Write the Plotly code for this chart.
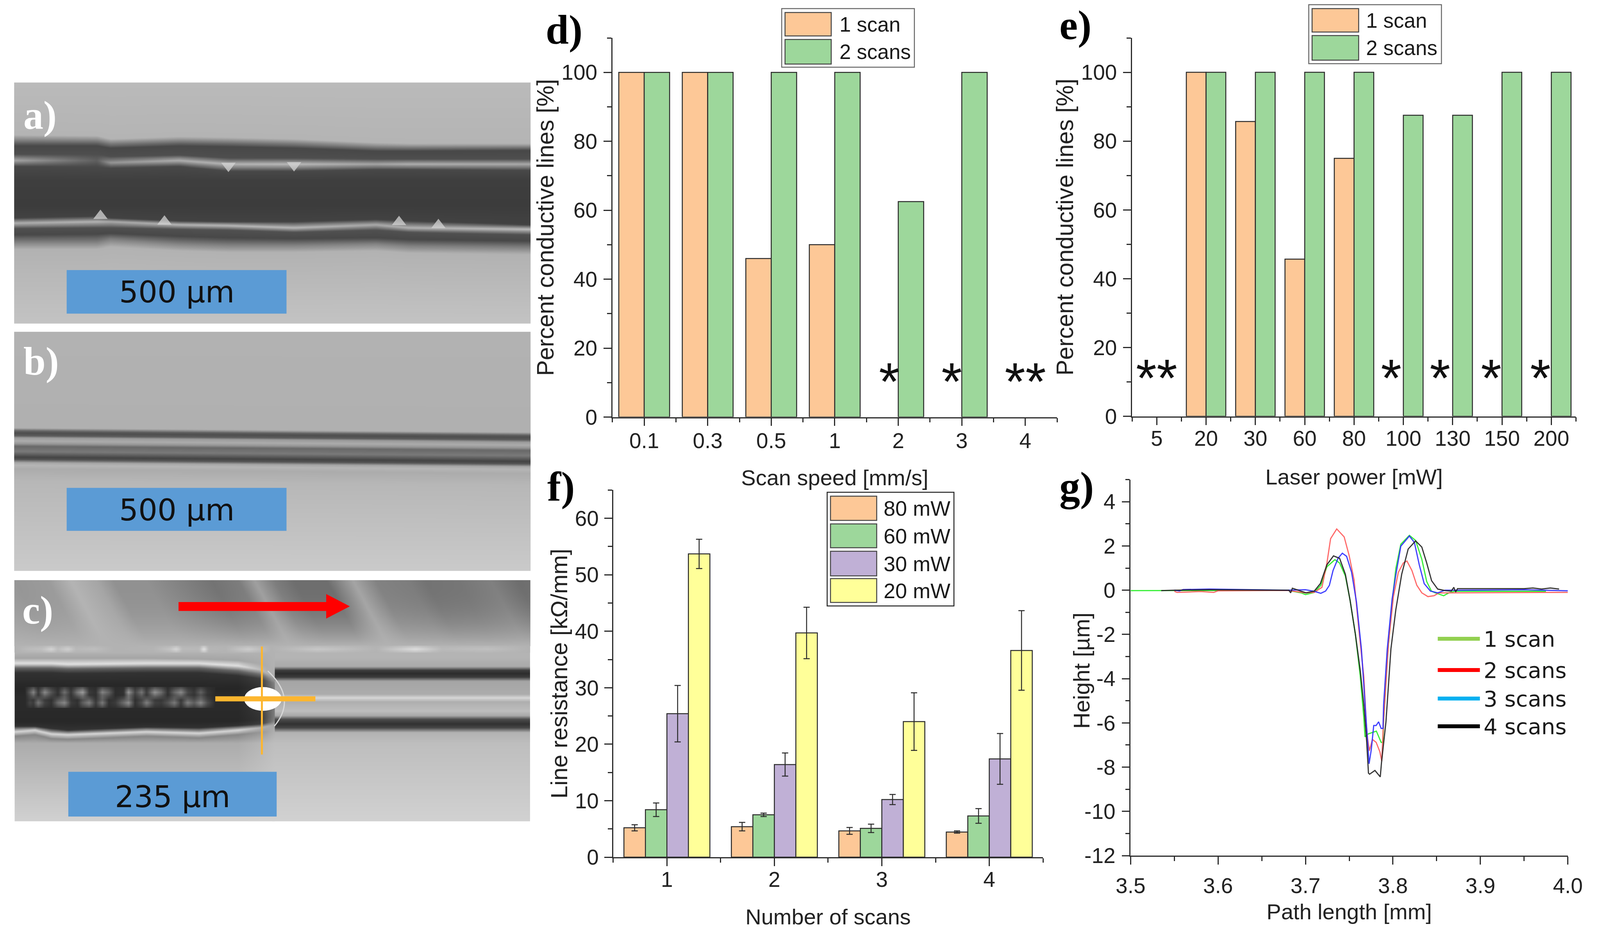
import numpy as np
import plotly.graph_objects as go

# reference size: positions below are read in these pixels and turned into fractions
W, H = 4329, 2383

# d) scan speed
speed_labels = ["0.1", "0.3", "0.5", "1", "2", "3", "4"]
speed_1scan = [100, 100, 46, 50, None, None, None]
speed_2scans = [100, 100, 100, 100, 62.5, 100, None]
speed_star_x = [3.86, 4.84, 6.0]
speed_star_txt = ["*", "*", "**"]

# e) laser power
power_labels = ["5", "20", "30", "60", "80", "100", "130", "150", "200"]
power_1scan = [None, 100, 85.7, 45.7, 75, None, None, None, None]
power_2scans = [None, 100, 100, 100, 100, 87.5, 87.5, 100, 100]
power_star_x = [0, 4.75, 5.74, 6.78, 7.78]
power_star_txt = ["**", "*", "*", "*", "*"]

# f) line resistance
scans = [1, 2, 3, 4]
res_80 = [5.2, 5.4, 4.65, 4.45]
res_80_err = [0.55, 0.75, 0.6, 0.2]
res_60 = [8.4, 7.5, 5.1, 7.3]
res_60_err = [1.2, 0.3, 0.75, 1.3]
res_30 = [25.4, 16.4, 10.2, 17.4]
res_30_err = [5.0, 2.05, 0.9, 4.5]
res_20 = [53.7, 39.7, 24.0, 36.6]
res_20_err = [2.6, 4.55, 5.1, 7.05]

# g) height profiles
g1_x = [3.5, 3.6, 3.68, 3.695, 3.7, 3.71, 3.7175, 3.7245, 3.7336, 3.739, 3.7456, 3.751, 3.757, 3.7625, 3.7667, 3.768,
        3.7717, 3.781, 3.7865, 3.7885, 3.7892, 3.7935, 3.799, 3.8033, 3.809, 3.8188, 3.8259, 3.833, 3.8386, 3.844,
        3.8484, 3.858, 3.864, 3.87, 3.95, 3.975]
g1_y = [-0.02, -0.01, -0.01, -0.12, -0.2, -0.1, 0.22, 1.06, 1.38, 1.23, 0.64, -0.46, -1.98, -3.84, -5.78, -6.63,
        -6.5, -6.37, -6.88, -6.88, -6.0, -3.08, -0.56, 0.98, 2.08, 2.48, 2.25, 1.4, 0.39, -0.04,
        -0.12, -0.25, -0.12, -0.05, -0.05, -0.05]
g2_x = [3.55, 3.553, 3.58, 3.595, 3.6, 3.68, 3.7, 3.71, 3.7188, 3.7245, 3.7287, 3.7357, 3.7442, 3.7499, 3.7555, 3.7611,
        3.7667, 3.7695, 3.771, 3.773, 3.7766, 3.7808, 3.785, 3.7872, 3.7892, 3.7949, 3.8005, 3.8062, 3.8118, 3.816,
        3.8217, 3.8273, 3.833, 3.84, 3.847, 3.8527, 3.8625, 4.0]
g2_y = [-0.05, -0.1, -0.06, -0.1, -0.03, -0.01, -0.12, -0.1, 0.13, 1.23, 2.33, 2.77, 2.41, 1.57, 0.47, -1.81,
        -3.92, -6.04, -6.7, -7.26, -6.75, -6.88, -7.3, -7.73, -5.95, -2.4, -0.29, 0.81, 1.23, 1.32,
        0.89, 0.22, -0.12, -0.29, -0.25, -0.12, -0.12, -0.1]
g3_x = [3.55, 3.556, 3.56, 3.59, 3.68, 3.7, 3.71, 3.7175, 3.723, 3.7273, 3.7315, 3.7372, 3.7421, 3.747, 3.7527, 3.7583,
        3.7639, 3.7674, 3.7703, 3.7727, 3.7752, 3.778, 3.7808, 3.7836, 3.7865, 3.7886, 3.7893, 3.7935, 3.7991, 3.8034,
        3.809, 3.8188, 3.8245, 3.8301, 3.8357, 3.8428, 3.8512, 3.8597, 3.875, 3.95, 4.0]
g3_y = [0, -0.03, 0.03, 0.05, 0, 0.02, -0.05, -0.14, -0.04, 0.22, 0.89, 1.44, 1.67, 1.53, 0.81, -0.54,
        -2.65, -4.77, -6.46, -7.85, -7.22, -6.12, -6.12, -5.95, -6.25, -6.25, -5.19, -2.65, -0.38, 0.72,
        1.99, 2.45, 2.16, 1.15, 0.3, -0.04, -0.12, 0, 0, 0.02, -0.03]
g4_x = [3.535, 3.55, 3.59, 3.681, 3.683, 3.685, 3.7005, 3.71, 3.717, 3.7245, 3.732, 3.739, 3.7456, 3.751, 3.757, 3.7625,
        3.7667, 3.77, 3.772, 3.7733, 3.7794, 3.7855, 3.7869, 3.792, 3.7977, 3.8033, 3.81, 3.8174, 3.8259, 3.833,
        3.8386, 3.8442, 3.8512, 3.8597, 3.8667, 3.8696, 3.8717, 3.8738, 3.89, 3.95, 3.96, 3.97, 3.98, 3.99]
g4_y = [-0.02, 0, 0.02, 0, -0.12, 0.09, -0.12, -0.04, 0.3, 1.15, 1.55, 1.44, 0.72, -0.46, -1.98, -3.6,
        -5.19, -6.88, -8.27, -8.32, -8.15, -8.44, -7.8, -5.95, -2.65, -0.88, 0.72, 1.86, 2.23, 1.95,
        1.23, 0.43, 0.05, -0.02, -0.04, 0.13, -0.08, 0.07, 0.07, 0.07, 0.1, 0.05, 0.1, 0.05]

ORANGE, GREEN, PURPLE, YELLOW = "#FDC897", "#9DD79B", "#C0B0D6", "#FFFF99"
DARK = "#2b2b2b"

# photos: every panel is described on a 1568 x 1568 unit box
panel_a = (41, 212, 1392, 615)
panel_b = (41, 850, 1392, 610)
panel_c = (41, 1486, 1392, 615)

a_cols = [0, 250, 290, 500, 650, 850, 1100, 1200, 1568]
a_rows = [
    [0] * 9,
    [340, 345, 365, 350, 355, 365, 390, 395, 395],
    [410, 410, 425, 410, 415, 425, 445, 445, 440],
    [465, 465, 480, 470, 490, 490, 495, 495, 495],
    [505, 505, 520, 505, 530, 530, 530, 530, 530],
    [545, 550, 555, 545, 575, 575, 565, 565, 570],
    [640] * 9,
    [800] * 9,
    [880, 870, 880, 900, 905, 905, 890, 900, 925],
    [915, 905, 905, 925, 930, 945, 925, 945, 955],
    [950, 945, 945, 955, 960, 975, 960, 975, 990],
    [990, 985, 980, 1000, 1010, 1015, 1010, 1020, 1030],
    [1040, 1040, 1020, 1050, 1060, 1060, 1050, 1065, 1075],
    [1085, 1085, 1070, 1095, 1105, 1105, 1095, 1110, 1120],
    [1568] * 9,
]
a_gray = [186, 180, 72, 78, [165, 95, 150, 175, 180, 185, 165, 175, 170], 72, 62, 60, 66,
          [175, 180, 170, 180, 185, 185, 170, 180, 190], 80, 72, 130, 178, 195]
a_flecks_top_x = [650, 850]
a_flecks_top_y = [542, 538]
a_flecks_low_x = [260, 455, 1170, 1290]
a_flecks_low_y = [868, 905, 908, 928]

b_cols = [0, 1568]
b_rows = [0, 630, 650, 663, 681, 694, 715, 733, 750, 784, 810, 822, 838, 856, 874, 900, 977, 1568]
b_gray = [178, 176, 95, 78, 92, 155, 172, 150, 105, 122, 85, 68, 85, 165, 182, 172, 183, 202]
b_drift = [0, 28]

c_left_cols = [0, 60, 110, 160, 400, 560, 680, 745, 790]
c_left_rows = [
    [0] * 9,
    [470] * 9,
    [505, 505, 505, 505, 505, 510, 520, 540, 570],
    [540, 540, 540, 545, 540, 540, 555, 580, 625],
    [570, 570, 570, 575, 570, 570, 590, 610, 650],
    [600, 600, 600, 605, 600, 600, 620, 640, 670],
    [700] * 9,
    [760] * 9,
    [830] * 9,
    [920, 920, 920, 920, 920, 920, 915, 905, 885],
    [950, 950, 965, 975, 955, 960, 945, 935, 915],
    [985, 975, 1000, 1005, 985, 995, 975, 960, 940],
    [1015, 1005, 1030, 1035, 1015, 1025, 1005, 990, 980],
    [1060] * 9,
    [1568] * 9,
]
c_left_gray = [176, 178, [165, 165, 165, 165, 165, 165, 165, 170, 178],
               [225, 225, 225, 225, 225, 225, 225, 190, 170],
               [100, 100, 100, 100, 100, 100, 100, 110, 150],
               [50, 50, 50, 50, 50, 50, 50, 60, 130],
               [38, 38, 38, 38, 38, 38, 38, 50, 125],
               [42, 42, 42, 42, 42, 42, 42, 60, 130],
               [42, 42, 42, 42, 42, 42, 42, 55, 125],
               [40, 40, 40, 40, 40, 40, 40, 50, 125],
               [50, 50, 50, 50, 50, 50, 50, 60, 130],
               [215, 215, 215, 215, 215, 215, 215, 180, 165],
               [135, 135, 135, 135, 135, 135, 135, 150, 175],
               [172, 172, 172, 172, 172, 172, 172, 182, 190], 209]
c_right_rows = [0, 500, 560, 585, 605, 630, 655, 740, 765, 790, 850, 880, 905, 935, 960, 990, 1060, 1568]
c_right_gray = [178, 180, 170, 60, 45, 60, 165, 172, 215, 175, 190, 170, 75, 50, 70, 178, 190, 209]
c_streak_x = [-150, 0, 100, 170, 250, 300, 400, 500, 600, 680, 730, 790, 850, 950, 1030, 1100, 1200, 1250, 1350, 1450, 1530, 1700]
c_streak_gray = [165, 150, 155, 180, 165, 145, 145, 130, 115, 125, 160, 125, 110, 110, 165, 130, 125, 115, 118, 128, 110, 115]
# the speckled core of the dark line and the row of glints above it
c_core_x = [30, 45, 55, 70, 90, 110, 130, 150, 170, 190, 205, 225, 245, 265, 285, 305, 330, 345, 365, 385, 400, 425, 445,
            465, 485, 505, 525, 545, 565, 585, 610]
c_core_upper = [42, 95, 135, 60, 140, 85, 50, 115, 55, 125, 160, 60, 50, 135, 100, 45, 50, 155, 70, 120, 60, 150, 110,
                50, 105, 140, 75, 55, 100, 55, 42]
c_core_lower = [42, 70, 60, 120, 65, 50, 110, 140, 60, 50, 95, 130, 60, 125, 50, 60, 110, 145, 50, 80, 130, 65, 60,
                85, 125, 60, 130, 95, 140, 80, 42]
c_glint_x = [0, 40, 80, 110, 130, 160, 185, 240, 300, 420, 470, 490, 510, 560, 575, 590, 640, 710, 780, 920, 1000, 1100, 1220, 1300, 1440, 1568]
c_glint_gray = [178, 188, 192, 212, 190, 208, 185, 190, 178, 180, 195, 215, 186, 185, 228, 182, 180, 205, 178, 200, 192, 180, 222, 186, 192, 178]

fig = go.Figure()


def ux(p, u):
    return p[0] + np.asarray(u, dtype=float) * p[2] / 1568


def uy(p, u):
    return p[1] + np.asarray(u, dtype=float) * p[3] / 1568


def add_gray(p, xs, ys, z):
    fig.add_trace(go.Heatmap(x=ux(p, xs), y=uy(p, ys), z=z, zmin=0, zmax=255, zsmooth="best", showscale=False,
                             colorscale=[[0, "black"], [1, "white"]], hoverinfo="skip", xaxis="x", yaxis="y"))


def add_photo(p, cols, rows, gray, x0=0, x1=1568):
    xs = np.linspace(x0, x1, 260)
    ys = np.linspace(0, 1568, 400)
    z = np.zeros((len(ys), len(xs)))
    for j, x in enumerate(xs):
        ky = [np.interp(x, cols, r) for r in rows]
        kg = [np.interp(x, cols, g) if isinstance(g, list) else g for g in gray]
        z[:, j] = np.interp(ys, ky, kg)
    add_gray(p, xs, ys, z)


def add_band(p, xs, rows, y0, y1, base):
    # speckle strips, one above the other, that fade into the base gray
    ys = np.linspace(y0, y1, 48)
    xx = np.linspace(xs[0], xs[-1], 400)
    z = np.full((len(ys), len(xx)), float(base))
    step = (y1 - y0) / len(rows)
    for k, gray in enumerate(rows):
        t = np.clip(1 - np.abs(ys - (y0 + step * (k + 0.5))) / (step * 0.75), 0, 1)
        z += np.outer(t, np.interp(xx, xs, gray) - base)
    add_gray(p, xx, ys, z)


def add_flecks(p, xs, ys, symbol):
    fig.add_trace(go.Scatter(x=ux(p, xs), y=uy(p, ys), mode="markers", hoverinfo="skip", showlegend=False,
                             marker=dict(size=32, symbol=symbol, color="#d4d4d4", opacity=0.75, line=dict(width=0)),
                             xaxis="x", yaxis="y"))


add_photo(panel_a, a_cols, a_rows, a_gray)
add_flecks(panel_a, a_flecks_top_x, a_flecks_top_y, "triangle-down")
add_flecks(panel_a, a_flecks_low_x, a_flecks_low_y, "triangle-up")
add_photo(panel_b, b_cols, [[y, y + b_drift[1]] if 0 < y < 1200 else [y, y] for y in b_rows], b_gray)
add_photo(panel_c, [0, 1568], [[y, y] for y in c_right_rows], c_right_gray, 785, 1568)
add_photo(panel_c, c_left_cols, c_left_rows, c_left_gray, 0, 790)

# slanted bright and dark streaks on top of photo c
st_x = np.linspace(0, 1568, 320)
st_y = np.linspace(0, 425, 80)
st_z = np.zeros((len(st_y), len(st_x)))
for i, y in enumerate(st_y):
    fade = (y / 425) ** 2.5
    st_z[i] = np.interp(st_x - 0.25 * y, c_streak_x, c_streak_gray) * (1 - fade) + 178 * fade
add_gray(panel_c, st_x, st_y, st_z)
add_band(panel_c, c_glint_x, [c_glint_gray], 425, 470, 178)
add_band(panel_c, c_core_x, [c_core_upper, c_core_lower], 695, 830, 42)


def add_bars(y, name, color, xa, ya, x=None, err=None):
    err_y = None
    if err is not None:
        err_y = dict(type="data", array=err, color=DARK, thickness=2.5, width=8)
    fig.add_trace(go.Bar(x=x, y=y, name=name, marker=dict(color=color, line=dict(color=DARK, width=2.5)),
                         error_y=err_y, showlegend=False, xaxis=xa, yaxis=ya))


speed_pos = list(range(len(speed_labels)))
power_pos = list(range(len(power_labels)))
add_bars(speed_1scan, "1 scan", ORANGE, "x2", "y2", speed_pos)
add_bars(speed_2scans, "2 scans", GREEN, "x2", "y2", speed_pos)
add_bars(power_1scan, "1 scan", ORANGE, "x3", "y3", power_pos)
add_bars(power_2scans, "2 scans", GREEN, "x3", "y3", power_pos)
add_bars(res_80, "80 mW", ORANGE, "x4", "y4", scans, res_80_err)
add_bars(res_60, "60 mW", GREEN, "x4", "y4", scans, res_60_err)
add_bars(res_30, "30 mW", PURPLE, "x4", "y4", scans, res_30_err)
add_bars(res_20, "20 mW", YELLOW, "x4", "y4", scans, res_20_err)

for xs, ys, name, color in [(g1_x, g1_y, "1 scan", "#22EE22"), (g2_x, g2_y, "2 scans", "#FF5A5A"),
                            (g3_x, g3_y, "3 scans", "#2B2BFF"), (g4_x, g4_y, "4 scans", "#222222")]:
    fig.add_trace(go.Scatter(x=xs, y=ys, name=name, mode="lines", line=dict(color=color, width=3), opacity=0.9,
                             showlegend=False, xaxis="x5", yaxis="y5"))

TICK = dict(family="Liberation Sans", size=55, color="#222222")


def x_dom(l, r):
    return [l / W, r / W]


def y_dom(t, b):
    return [1 - b / H, 1 - t / H]


def axis(title, size, standoff, labels_off, dom, anchor, **kw):
    return dict(domain=dom, anchor=anchor, showgrid=False, zeroline=False, showline=True, linecolor=DARK, linewidth=2.5,
                ticks="outside", ticklen=20, tickwidth=2.5, tickcolor=DARK, tickfont=TICK, ticklabelstandoff=labels_off,
                title=dict(text=title, standoff=standoff,
                           font=dict(family="Liberation Sans", size=size, color="#222222")),
                automargin=False, **kw)


def minor(ticklen=11, **kw):
    return dict(ticks="outside", ticklen=ticklen, tickwidth=2.5, tickcolor=DARK, showgrid=False, **kw)


fig.update_layout(
    template="none", margin=dict(l=0, r=0, t=0, b=0), paper_bgcolor="white", plot_bgcolor="rgba(0,0,0,0)",
    barmode="group", bargap=0.2, bargroupgap=0, showlegend=False,
    xaxis=dict(domain=[0, 1], range=[0, W], visible=False, anchor="y"),
    yaxis=dict(domain=[0, 1], range=[H, 0], visible=False, anchor="x"),
    xaxis2=axis("Scan speed [mm/s]", 56, 45, -9, x_dom(1657, 2860), "y2", range=[-0.5, 6.5], tickvals=speed_pos,
                ticktext=speed_labels, minor=minor(tickvals=[k - 0.5 for k in range(8)])),
    yaxis2=axis("Percent conductive lines [%]", 60.5, 1, 5, y_dom(97, 1067.5), "x2", range=[0, 110], dtick=20,
                minor=minor(dtick=10)),
    xaxis3=axis("Laser power [mW]", 56, 49, -13, x_dom(3063, 4264), "y3", range=[-0.5, 8.5], tickvals=power_pos,
                ticktext=power_labels, minor=minor(tickvals=[k - 0.5 for k in range(10)])),
    yaxis3=axis("Percent conductive lines [%]", 60.5, 1, 5, y_dom(97, 1065.6), "x3", range=[0, 110], dtick=20,
                minor=minor(dtick=10)),
    xaxis4=axis("Number of scans", 56, 47, -13, x_dom(1659, 2822), "y4", range=[0.5, 4.5], tickvals=scans,
                minor=minor(tickvals=[0.5, 1.5, 2.5, 3.5, 4.5])),
    yaxis4=axis("Line resistance [kΩ/mm]", 59.5, 0, 3, y_dom(1254.4, 2194), "x4", range=[0, 65],
                tickvals=list(range(0, 61, 10)), minor=minor(dtick=5)),
    xaxis5=axis("Path length [mm]", 56, 18, 7, x_dom(3059, 4242), "y5", range=[3.5, 4.0], dtick=0.1, tickformat=".1f",
                minor=minor(dtick=0.05)),
    yaxis5=dict(domain=y_dom(1227.6, 2190), anchor="x5", showgrid=False, zeroline=False, showline=True, linecolor=DARK,
                linewidth=2.5, ticks="outside", ticklen=20, tickwidth=2.5, tickcolor=DARK, tickfont=TICK,
                ticklabelstandoff=5, automargin=False, range=[-12, 5], tickvals=[-12, -10, -8, -6, -4, -2, 0, 2, 4],
                ticktext=["-12", "-10", "-8", "-6", "-4", "-2", "0", "2", "4"], minor=minor(dtick=1)),
)


def note(x, y, text, font, xanchor="left", xref="x", yref="y", yshift=0, angle=0):
    fig.add_annotation(x=x, y=y, text=text, xref=xref, yref=yref, font=font, showarrow=False, xanchor=xanchor,
                       yanchor="middle", yshift=yshift, align="left", textangle=angle)


def rect(x0, y0, x1, y1, fill, line=None, lw=2.5):
    fig.add_shape(type="rect", xref="x", yref="y", x0=x0, y0=y0, x1=x1, y1=y1, fillcolor=fill,
                  line=dict(color=line, width=lw) if line else dict(width=0))


def box_legend(box, sw, rows, names, colors, tx, size, border):
    rect(box[0], box[1], box[2], box[3], "white", border, 2.5)
    for (r0, r1), name, color in zip(rows, names, colors):
        rect(sw[0], r0, sw[1], r1, color, "#444444", 2.5)
        note(tx, (r0 + r1) / 2, name, dict(family="Liberation Sans", size=size, color="#1a1a1a"))


# the title of g sits closer to its labels than an axis title can
note(2925, 1717, "Height [µm]", dict(family="Liberation Sans", size=58, color="#222222"), "center", angle=-90)

box_legend((2115, 22, 2474, 172), (2124, 2249), [(32, 92), (101, 164)], ["1 scan", "2 scans"], [ORANGE, GREEN], 2269, 53, "#666666")
box_legend((3541, 12, 3900, 163), (3550, 3676), [(22, 82), (91, 154)], ["1 scan", "2 scans"], [ORANGE, GREEN], 3694, 53, "#666666")
box_legend((2238, 1260, 2581, 1551), (2247, 2372), [(1270, 1332), (1341, 1402), (1411, 1474), (1481, 1542)],
           ["80 mW", "60 mW", "30 mW", "20 mW"], [ORANGE, GREEN, PURPLE, YELLOW], 2389, 54, "#222222")

# legend of g
for y, name, color in zip([1635, 1715, 1788, 1859], ["1 scan", "2 scans", "3 scans", "4 scans"],
                          ["#92D050", "#FF0000", "#00B0F0", "#000000"]):
    fig.add_shape(type="line", xref="x", yref="y", x0=3890, x1=4004, y0=y, y1=y, line=dict(color=color, width=10))
    note(4012, y, name, dict(family="DejaVu Sans", size=56, color="#1a1a1a"))

STAR = dict(family="Liberation Sans", size=136, color="#111111")
for x, t in zip(speed_star_x, speed_star_txt):
    note(x, 14.8, t, STAR, "center", "x2", "y2", yshift=-39)
for x, t in zip(power_star_x, power_star_txt):
    note(x, 15.6, t, STAR, "center", "x3", "y3", yshift=-39)

# scale bars
BAR_FONT = dict(family="DejaVu Sans", size=77, color="#111111")
for p, (x0, x1, y0, y1), (cx, cy), t in [
    (panel_a, (157, 827, 1222, 1506), (492, 1365), "500 µm"),
    (panel_b, (157, 827, 1025, 1308), (492, 1170), "500 µm"),
    (panel_c, (162, 797, 1248, 1540), (480, 1410), "235 µm"),
]:
    rect(ux(p, x0), uy(p, y0), ux(p, x1), uy(p, y1), "#5B9BD5")
    note(ux(p, cx), uy(p, cy), t, BAR_FONT, "center")

# marks on photo c
fig.add_shape(type="path", xref="x", yref="y", line=dict(color="#d8d8d8", width=3),
              path=f"M{ux(panel_c, 770):.1f},{uy(panel_c, 590):.1f} Q{ux(panel_c, 860):.1f},{uy(panel_c, 770):.1f} "
                   f"{ux(panel_c, 790):.1f},{uy(panel_c, 950):.1f}")
fig.add_shape(type="circle", xref="x", yref="y", x0=ux(panel_c, 698), x1=ux(panel_c, 812), y0=uy(panel_c, 695),
              y1=uy(panel_c, 850), fillcolor="white", line=dict(width=0))
fig.add_shape(type="line", xref="x", yref="y", x0=ux(panel_c, 752), x1=ux(panel_c, 752), y0=uy(panel_c, 430),
              y1=uy(panel_c, 1135), line=dict(color="#FDB62F", width=5))
fig.add_shape(type="line", xref="x", yref="y", x0=ux(panel_c, 610), x1=ux(panel_c, 915), y0=uy(panel_c, 772),
              y1=uy(panel_c, 772), line=dict(color="#FDB62F", width=13))
ax = [ux(panel_c, v) for v in (498, 948, 948, 1020, 948, 948, 498)]
ay = [uy(panel_c, v) for v in (140, 140, 88, 168, 248, 198, 198)]
fig.add_shape(type="path", xref="x", yref="y", fillcolor="#FF0000", line=dict(width=0),
              path="M" + " L".join(f"{a:.1f},{b:.1f}" for a, b in zip(ax, ay)) + " Z")

# panel letters
SERIF = "Liberation Serif"
for t, x, y, c, s in [("a)", 61, 294, "white", 102), ("b)", 61, 924, "white", 102), ("c)", 58, 1561, "white", 102),
                      ("d)", 1474, 76, "black", 106), ("e)", 2864, 64, "black", 106),
                      ("f)", 1479, 1245, "black", 106), ("g)", 2864, 1245, "black", 106)]:
    note(x, y, f"<b>{t}</b>", dict(family=SERIF, size=s, color=c))

fig.write_html("out.html", config={"displayModeBar": False}, default_width="100vw", default_height="100vh",
               post_script="document.body.style.margin='0';document.body.style.overflow='hidden';")
